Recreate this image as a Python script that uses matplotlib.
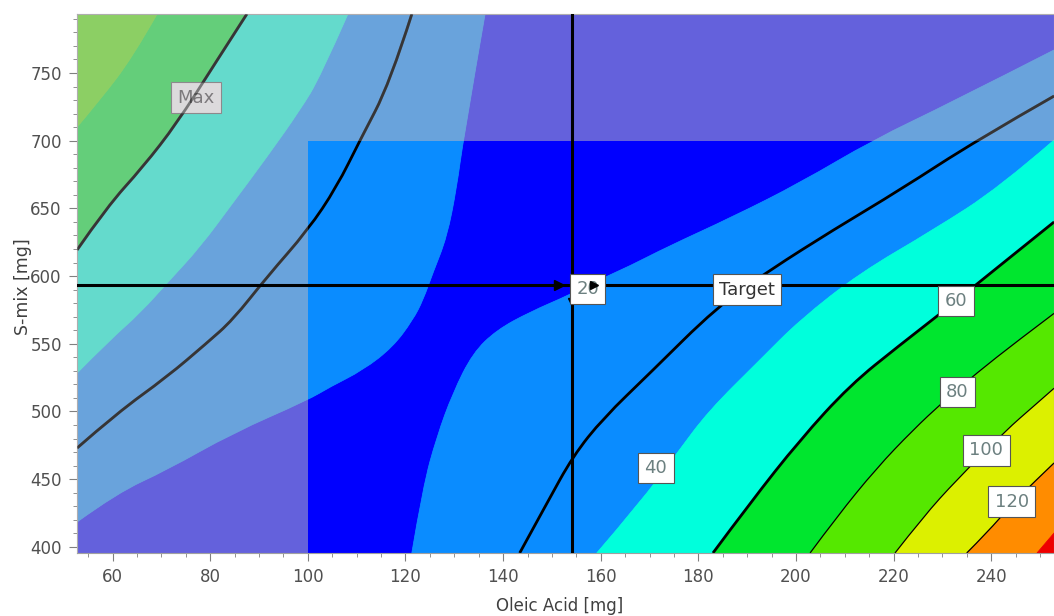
import numpy as np
import matplotlib.pyplot as plt
from matplotlib.patches import Polygon, PathPatch
from matplotlib.path import Path
from matplotlib.ticker import MultipleLocator

plt.rcParams['font.family'] = ['DejaVu Sans']

# axis ranges
x_lim = (52.7, 252.9)
y_lim = (395.5, 793.6)

# contour lines, as (oleic acid, S-mix) points
c20_left = np.array([(136.3, 793.6), (131.8, 700.5), (130.5, 665.8), (128.5, 628.9), (125.6, 602.3),
                     (123.6, 582.3), (121.5, 567.6), (117.4, 547.6), (111.3, 530.6), (104.5, 518.1),
                     (100.0, 508.5), (84.6, 484.1), (71.1, 456.8), (60.9, 439.8), (52.7, 418.4)])
c20_right = np.array([(121.3, 395.5), (123.6, 444.5), (126.4, 481.2), (129.7, 513.7), (133.8, 543.2),
                      (138.7, 560.2), (145.5, 573.5), (153.7, 586.3), (159.8, 597.5), (166.0, 607.5),
                      (173.6, 621.5), (187.1, 643.9), (200.8, 668.8), (215.8, 700.5), (231.6, 727.8),
                      (252.9, 767.0)])
target_left = np.array([(121.3, 793.6), (116.8, 742.6), (110.7, 700.5), (105.9, 665.8), (100.0, 634.0),
                        (91.6, 599.3), (84.6, 567.6), (79.3, 550.6), (71.1, 525.5), (60.9, 498.9),
                        (52.7, 473.0)])
target_right = np.array([(143.4, 395.5), (149.0, 432.4), (154.3, 467.0), (160.5, 495.0), (170.1, 528.4),
                         (183.8, 577.2), (194.7, 604.5), (207.6, 634.0), (221.3, 663.6), (237.1, 700.5),
                         (252.9, 733.0)])
c40_left = np.array([(108.2, 793.6), (102.5, 747.0), (98.4, 722.7), (91.6, 688.0), (84.6, 654.0),
                     (77.9, 621.5), (71.7, 597.1), (65.6, 572.7), (59.4, 552.8), (52.7, 528.4)])
c40_right = np.array([(159.2, 395.5), (168.0, 432.4), (175.6, 469.0), (182.0, 500.0), (192.6, 538.0),
                      (200.8, 567.6), (213.1, 602.3), (228.1, 634.0), (241.8, 665.8), (252.9, 700.5)])
c60_left = np.array([(87.5, 793.6), (80.5, 754.4), (73.2, 713.1), (66.2, 680.6), (58.8, 651.0),
                     (52.7, 619.3)])
c60_right = np.array([(183.0, 395.5), (190.6, 432.4), (200.8, 478.9), (211.1, 519.5), (221.3, 549.1),
                      (229.5, 572.0), (237.1, 594.2), (252.9, 640.0)])
c80_left = np.array([(69.1, 793.6), (64.1, 761.8), (57.4, 730.1), (52.7, 710.1)])
c80_right = np.array([(202.9, 395.5), (208.4, 422.3), (216.5, 458.1), (224.0, 486.4), (230.2, 507.3),
                      (237.0, 528.3), (245.2, 551.6), (252.9, 572.5)])
c100_right = np.array([(220.3, 395.5), (226.1, 422.3), (232.9, 449.4), (243.1, 486.3), (248.6, 503.6),
                       (252.9, 517.2)])
c120_right = np.array([(235.0, 395.5), (239.1, 410.3), (244.5, 432.4), (248.6, 447.2), (252.9, 462.0)])
c140_right = np.array([(249.4, 395.5), (252.9, 410.3)])

# labels on the contour lines
label_texts = ["Max", "20", "Target", "40", "60", "80", "100", "120"]
label_x = [77.0, 157.3, 190.0, 171.3, 232.8, 233.1, 239.0, 244.2]
label_y = [731.9, 590.5, 590.0, 458.3, 581.6, 514.4, 471.2, 433.5]

# current setting (crosshair) and the design-space box
cross_x = 154.2
cross_y = 593.5
box_x0 = 100.0
box_y1 = 700.0

band_colors = ["#0000ff", "#0a8cff", "#00ffdc", "#00e62e", "#55e800", "#dcf000", "#ff8c00", "#ee0000"]

L, R = x_lim
B, T = y_lim


def chain(points):
    # smooth curve through the read points (quadratic bezier, midpoints on the curve)
    pts = [np.asarray(p, float) for p in points]
    verts, codes = [pts[0]], []
    n = len(pts)
    if n == 2:
        return verts + [pts[1]], [Path.LINETO]
    for i in range(1, n - 1):
        end = pts[-1] if i == n - 2 else (pts[i] + pts[i + 1]) / 2
        verts += [pts[i], end]
        codes += [Path.CURVE3, Path.CURVE3]
    return verts, codes


def region_path(parts):
    verts, codes = [], []
    for k, p in enumerate(parts):
        v, c = chain(p) if len(p) > 1 else ([np.asarray(p[0], float)], [])
        verts += v
        codes += [Path.MOVETO if k == 0 else Path.LINETO] + c
    verts.append(verts[0])
    codes.append(Path.CLOSEPOLY)
    return Path(verts, codes)


def line_path(points):
    v, c = chain(points)
    return Path(v, [Path.MOVETO] + c)


regions = [
    ([c20_left, [(L, B)], c20_right, [(R, T)]], band_colors[0]),
    ([c40_left, c20_left[::-1]], band_colors[1]),
    ([c20_right, c40_right[::-1]], band_colors[1]),
    ([c60_left, c40_left[::-1]], band_colors[2]),
    ([c40_right, c60_right[::-1]], band_colors[2]),
    ([c80_left, c60_left[::-1]], band_colors[3]),
    ([c60_right, c80_right[::-1]], band_colors[3]),
    ([[(L, T)], c80_left], band_colors[4]),
    ([c80_right, c100_right[::-1]], band_colors[4]),
    ([c100_right, c120_right[::-1]], band_colors[5]),
    ([c120_right, c140_right[::-1]], band_colors[6]),
    ([c140_right, [(R, B)]], band_colors[7]),
]

fig = plt.figure(figsize=(10.54, 6.16), dpi=100)
ax = fig.add_axes([0.0731, 0.1023, 0.927, 0.875])

for parts, col in regions:
    ax.add_patch(PathPatch(region_path(parts), facecolor=col, edgecolor=col, lw=0.6, zorder=1))

# grey veil outside the design space
veil = Polygon([(L, B), (box_x0, B), (box_x0, box_y1), (R, box_y1), (R, T), (L, T)],
               closed=True, facecolor=(0.745, 0.725, 0.745), alpha=0.53, edgecolor="none", zorder=4)
ax.add_patch(veil)

# constraint lines (thick) and plain contour lines (thin)
thick_lines = [target_left, target_right, c60_left, c60_right]
thin_lines = [c80_right, c100_right, c120_right]
for lines, w in [(thick_lines, 2.0), (thin_lines, 0.9)]:
    for line in lines:
        ax.add_patch(PathPatch(line_path(line), fill=False, edgecolor="black", lw=w, zorder=2))
        over = PathPatch(line_path(line), fill=False, edgecolor="black", alpha=0.45, lw=w, zorder=4.5)
        ax.add_patch(over)
        over.set_clip_path(veil)

for txt, lx, ly in zip(label_texts, label_x, label_y):
    faded = lx < box_x0 or ly > box_y1
    ax.text(lx, ly, txt, ha="center", va="center", fontsize=13,
            color="#333333" if txt in ("Target", "Max") else "#6c8080",
            bbox=dict(boxstyle="square,pad=0.35", facecolor="white", edgecolor="#555555", lw=0.8),
            zorder=3 if faded else 7)

# crosshair
ax.axhline(cross_y, color="black", lw=2.2, zorder=5)
ax.axvline(cross_x, color="black", lw=2.2, zorder=5)
ax.plot([cross_x - 2.8], [cross_y], marker=">", color="black", ms=7, zorder=6)
ax.plot([cross_x], [cross_y - 12.5], marker="v", color="black", ms=6, zorder=6)
ax.plot([cross_x + 4.5], [cross_y], marker=">", color="black", ms=6, zorder=8)

ax.set_xlim(x_lim)
ax.set_ylim(y_lim)
ax.xaxis.set_major_locator(MultipleLocator(20))
ax.xaxis.set_minor_locator(MultipleLocator(5))
ax.yaxis.set_major_locator(MultipleLocator(50))
ax.yaxis.set_minor_locator(MultipleLocator(10))
ax.tick_params(which="both", direction="out", color="#808080", labelcolor="#505050",
               labelsize=12)
ax.tick_params(which="major", length=6, pad=5)
ax.tick_params(which="minor", length=3)
for s in ax.spines.values():
    s.set_color("#a0a0a0")
    s.set_linewidth(0.8)

ax.set_xlabel("Oleic Acid [mg]", fontsize=12, color="#404040")
ax.set_ylabel("S-mix [mg]", fontsize=12.5, color="#404040")
ax.xaxis.set_label_coords(0.494, -0.082)
ax.yaxis.set_label_coords(-0.046, 0.495)

plt.savefig("out.png", dpi=100)
